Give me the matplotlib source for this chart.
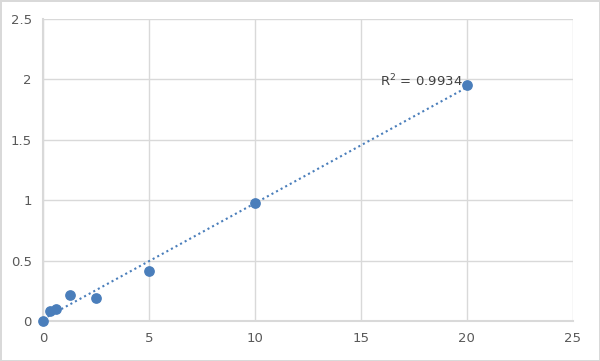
import matplotlib.pyplot as plt
import numpy as np

# standard curve points
conc = [0, 0.3125, 0.625, 1.25, 2.5, 5, 10, 20]
od = [0.0, 0.08, 0.1, 0.215, 0.19, 0.41, 0.98, 1.955]
r2_label = 'R$^2$ = 0.9934'

fig = plt.figure(figsize=(6, 3.61), dpi=100)
fig.patch.set_edgecolor('#d9d9d9')
fig.patch.set_linewidth(2)
ax = fig.add_axes([0.0717, 0.111, 0.883, 0.836])

# linear trendline
k, b = np.polyfit(conc, od, 1)
xs = np.array([0, 20])
ax.plot(xs, k * xs + b, linestyle=(0, (1, 1.5)), color='#4a7ebb', lw=1.5, zorder=2)
ax.scatter(conc, od, s=45, color='#4a7ebb', zorder=3, clip_on=False)

ax.text(15.9, 1.92, r2_label, fontsize=9.5, color='#404040', ha='left', va='bottom')

ax.set_xlim(0, 25)
ax.set_ylim(0, 2.5)
ax.set_xticks([0, 5, 10, 15, 20, 25])
ax.set_yticks([0, 0.5, 1, 1.5, 2, 2.5])
ax.set_yticklabels(['0', '0.5', '1', '1.5', '2', '2.5'])
ax.grid(True, color='#d9d9d9', lw=1)
ax.set_axisbelow(True)
for s in ['top', 'right']:
    ax.spines[s].set_visible(False)
for s in ['left', 'bottom']:
    ax.spines[s].set_color('#d9d9d9')
    ax.spines[s].set_linewidth(1.5)
ax.tick_params(length=0, labelsize=9.5, colors='#595959', pad=8)

fig.savefig('out.png', dpi=100, edgecolor=fig.get_edgecolor())
